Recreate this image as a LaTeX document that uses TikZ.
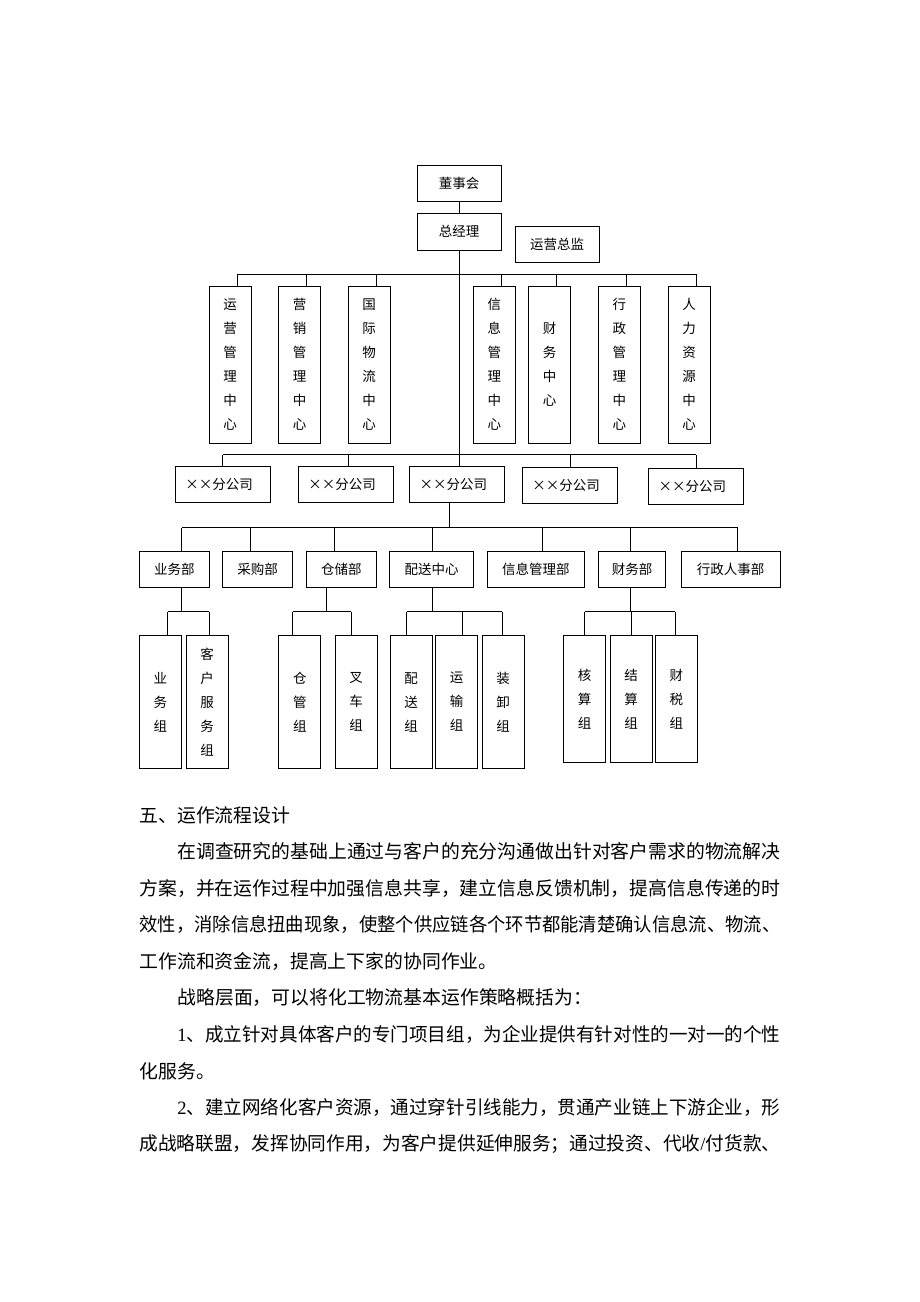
\documentclass[tikz,border=0pt]{standalone}
\usepackage{fontspec}
\usepackage{graphicx}
\setmainfont{Noto Sans CJK SC}
\newfontfamily\lat{Liberation Serif}
\newcommand\chartfont{\fontsize{13.5}{24}\selectfont}
\newcommand\parafont{\fontsize{18.85}{22}\selectfont}
\newcommand\fitline[2]{\resizebox{#1}{\height}{#2}}
\begin{document}
\begin{tikzpicture}[x=1pt,y=-1pt,line width=0.9pt,
	unit/.style={draw,inner sep=0pt,minimum height=36pt,font=\chartfont},
	vunit/.style={draw,inner sep=0pt,minimum width=42pt,align=center,font=\chartfont},
	branch/.style={draw,inner ysep=0pt,inner xsep=10pt,text width=75pt,minimum height=36pt,align=left,font=\chartfont},
	para/.style={inner sep=0pt,anchor=west,font=\parafont}]
	\fill[white] (0,0) rectangle (920,1302);
	\useasboundingbox (0,0) rectangle (920,1302);
	% top of the chart
	\node[unit,minimum width=84pt] (dsh) at (459,183.5) {董事会};
	\node[unit,minimum width=84pt,minimum height=37pt] (zjl) at (459,231.5) {总经理};
	\node[unit,minimum width=84pt] (yyzj) at (557,244) {运营总监};
	% centres
	\node[vunit,minimum height=157pt] (yy) at (230,364.5) {运\\营\\管\\理\\中\\心};
	\node[vunit,minimum height=157pt] (yx) at (299.5,364.5) {营\\销\\管\\理\\中\\心};
	\node[vunit,minimum height=157pt] (gj) at (369,364.5) {国\\际\\物\\流\\中\\心};
	\node[vunit,minimum height=157pt] (xx) at (494.3,364.5) {信\\息\\管\\理\\中\\心};
	\node[vunit,minimum height=157pt] (cw) at (549.7,364.5) {财\\务\\中\\心};
	\node[vunit,minimum height=157pt] (xz) at (619.3,364.5) {行\\政\\管\\理\\中\\心};
	\node[vunit,minimum height=157pt] (rl) at (689,364.5) {人\\力\\资\\源\\中\\心};
	% branch companies
	\node[branch] (fg1) at (222.8,484.7) {××分公司};
	\node[branch] (fg2) at (345.8,484.7) {××分公司};
	\node[branch] (fg3) at (457,484.7) {××分公司};
	\node[branch] (fg4) at (569.8,485.5) {××分公司};
	\node[branch] (fg5) at (696,486.8) {××分公司};
	% departments
	\node[unit,minimum width=70pt] (ywb) at (174.3,569) {业务部};
	\node[unit,minimum width=70pt] (cgb) at (257.7,569) {采购部};
	\node[unit,minimum width=70pt] (ccb) at (341.3,569) {仓储部};
	\node[unit,minimum width=83.6pt] (psb) at (431.5,569) {配送中心};
	\node[unit,minimum width=97.7pt] (xxb) at (535.8,569) {信息管理部};
	\node[unit,minimum width=67pt] (cwb) at (632.2,569) {财务部};
	\node[unit,minimum width=98.7pt] (xzb) at (730.7,569) {行政人事部};
	% groups
	\node[vunit,minimum height=132.6pt] (ywz) at (160.4,702) {业\\务\\组};
	\node[vunit,minimum height=132.6pt] (khz) at (207,702) {客\\户\\服\\务\\组};
	\node[vunit,minimum height=132.6pt] (cgz) at (299.8,702) {仓\\管\\组};
	\node[vunit,minimum height=132.6pt] (ccz) at (356,702) {叉\\车\\组};
	\node[vunit,minimum height=132.6pt] (psz) at (411.2,702) {配\\送\\组};
	\node[vunit,minimum height=132.6pt] (ysz) at (456.6,702) {运\\输\\组};
	\node[vunit,minimum height=132.6pt] (zxz) at (503.2,702) {装\\卸\\组};
	\node[vunit,minimum height=126.6pt] (hsz) at (584.7,699) {核\\算\\组};
	\node[vunit,minimum height=126.6pt] (jsz) at (631,699) {结\\算\\组};
	\node[vunit,minimum height=126.6pt] (csz) at (676.4,699) {财\\税\\组};
	% connectors
	\coordinate (bus1) at (459,274);
	\coordinate (bus2) at (459,454.7);
	\coordinate (bus3) at (449,527.7);
	\coordinate (bus4) at (449,611.5);
	\draw (dsh) -- (zjl);
	\draw (zjl.south) -- (zjl.south |- fg3.north);
	\foreach \nm in {yy,yx,gj,xx,cw,xz,rl}
	\draw ([xshift=7pt]\nm.north) -- ([xshift=7pt]\nm.north |- bus1);
	\draw ([xshift=7pt]yy.north |- bus1) -- ([xshift=7pt]rl.north |- bus1);
	\foreach \nm/\off in {fg1/0,fg2/2.5,fg4/1,fg5/0}
	\draw ([xshift=\off pt]\nm.north) -- ([xshift=\off pt]\nm.north |- bus2);
	\draw (fg1.north |- bus2) -- (fg5.north |- bus2);
	\draw ([xshift=-8pt]fg3.south) -- ([xshift=-8pt]fg3.south |- bus3);
	\foreach \nm/\off in {ywb/7.4,cgb/-7,ccb/-7,psb/0.5,xxb/7,cwb/-2,xzb/7}
	\draw ([xshift=\off pt]\nm.north) -- ([xshift=\off pt]\nm.north |- bus3);
	\draw ([xshift=7.4pt]ywb.north |- bus3) -- ([xshift=7pt]xzb.north |- bus3);
	\foreach \nm/\off in {ywb/7.4,ccb/-15,psb/0.5,cwb/-2}
	\draw ([xshift=\off pt]\nm.south) -- ([xshift=\off pt]\nm.south |- bus4);
	\foreach \nm/\off in {ywz/7.3,khz/2.3,cgz/-7,ccz/-5,psz/-4.4,ysz/6,zxz/-1,hsz/0,jsz/0,csz/-1}
	\draw ([xshift=\off pt]\nm.north) -- ([xshift=\off pt]\nm.north |- bus4);
	\foreach \na/\oa/\nb/\ob in {ywz/7.3/khz/2.3,cgz/-7/ccz/-5,psz/-4.4/zxz/-1,hsz/0/csz/-1}
	\draw ([xshift=\oa pt]\na.north |- bus4) -- ([xshift=\ob pt]\nb.north |- bus4);
	% text below the chart
	\node[para] (t1) at (139,815) {五、运作流程设计};
	\node[para] (t2) at (177,851.6) {\fitline{603pt}{在调查研究的基础上通过与客户的充分沟通做出针对客户需求的物流解决}};
	\node[para] (t3) at (139,888.2) {\fitline{641pt}{方案，并在运作过程中加强信息共享，建立信息反馈机制，提高信息传递的时}};
	\node[para] (t4) at (139,924.8) {\fitline{641pt}{效性，消除信息扭曲现象，使整个供应链各个环节都能清楚确认信息流、物流、}};
	\node[para] (t5) at (139,961.4) {工作流和资金流，提高上下家的协同作业。};
	\node[para] (t6) at (177,998) {战略层面，可以将化工物流基本运作策略概括为：};
	\node[para] (t7) at (177,1034.6) {\fitline{603pt}{{\lat 1}、成立针对具体客户的专门项目组，为企业提供有针对性的一对一的个性}};
	\node[para] (t8) at (139,1071.2) {化服务。};
	\node[para] (t9) at (177,1107.8) {\fitline{603pt}{{\lat 2}、建立网络化客户资源，通过穿针引线能力，贯通产业链上下游企业，形}};
	\node[para] (t10) at (139,1144.4) {\fitline{641pt}{成战略联盟，发挥协同作用，为客户提供延伸服务；通过投资、代收{\lat /}付货款、}};
\end{tikzpicture}
\end{document}
